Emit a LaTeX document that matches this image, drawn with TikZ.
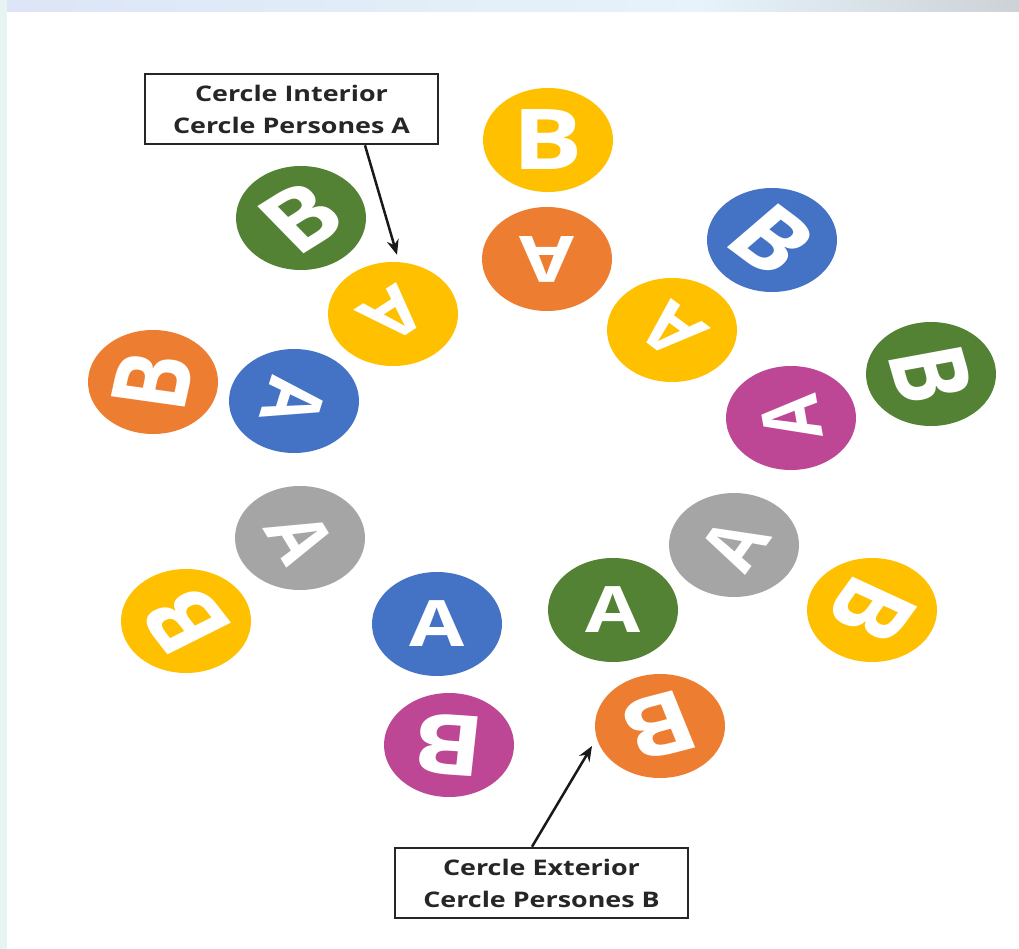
\documentclass[tikz,border=0pt]{standalone}
\usepackage{fontspec}
\setmainfont{Open Sans}
\usetikzlibrary{shapes.geometric,arrows.meta}
\definecolor{cyellow}{HTML}{FFC000}
\definecolor{corange}{HTML}{ED7D31}
\definecolor{cblue}{HTML}{4472C4}
\definecolor{cgray}{HTML}{A5A5A5}
\definecolor{cgreen}{HTML}{548235}
\definecolor{cpink}{HTML}{BD4794}
\definecolor{bgtopL}{HTML}{DDE5F6}
\definecolor{bgtopM}{HTML}{E6F3FA}
\definecolor{bgtopR}{HTML}{CDD2D6}
\definecolor{bgleft}{HTML}{E6F4F2}
\tikzset{
  tok/.style={ellipse, minimum width=130pt, minimum height=104pt, inner sep=0pt, fill=#1},
  letA/.style={text=white, font=\fontsize{64}{64}\selectfont\bfseries, inner sep=0pt},
  letB/.style={text=white, font=\fontsize{84}{84}\selectfont\bfseries, inner sep=0pt},
  lbl/.style={draw=black!85, line width=2.6pt, fill=white, minimum width=293pt, minimum height=70pt, inner sep=0pt, align=center, font=\fontsize{21.5}{32}\selectfont\bfseries, text=black!85},
  arr/.style={-{Stealth[length=15pt,width=12pt]}, line width=2.5pt, draw=black!90},
}
\newcommand\mytok[7]{%
  \node[tok=#4] (#1) at (#2,#3) {};
  \node[#5, xscale=1.25, rotate=#7] (#1l) at (#1) {#6};
}
\newcommand\wide[1]{\scalebox{1.25}[1]{#1}}
\begin{document}
\begin{tikzpicture}[x=1pt,y=-1pt]
\useasboundingbox (0,0) rectangle (1019,949);
\fill[white] (0,0) rectangle (1019,949);
\shade[left color=bgtopL, right color=bgtopM] (0,0) rectangle (700,12);
\shade[left color=bgtopM, right color=bgtopR] (700,0) rectangle (1019,12);
\fill[bgleft] (0,0) rectangle (7,949);

\mytok{yBa}{548}{140}{cyellow}{letB}{B}{0}
\mytok{oAa}{547}{259}{corange}{letA}{A}{180}
\mytok{gBa}{301}{218}{cgreen}{letB}{B}{38}
\mytok{yAa}{393}{314}{cyellow}{letA}{A}{-141}
\mytok{oBa}{153}{382}{corange}{letB}{B}{80}
\mytok{bAa}{294}{401}{cblue}{letA}{A}{-104}
\mytok{bBa}{772}{240}{cblue}{letB}{B}{-43}
\mytok{yAb}{672}{330}{cyellow}{letA}{A}{137}
\mytok{gBb}{931}{374}{cgreen}{letB}{B}{-77}
\mytok{pAa}{791}{418}{cpink}{letA}{A}{98}
\mytok{grAa}{300}{538}{cgray}{letA}{A}{-64}
\mytok{yBb}{186}{621}{cyellow}{letB}{B}{122}
\mytok{bAb}{437}{624}{cblue}{letA}{A}{0}
\mytok{pBa}{449}{745}{cpink}{letB}{B}{175}
\mytok{gAa}{613}{610}{cgreen}{letA}{A}{0}
\mytok{grAb}{734}{545}{cgray}{letA}{A}{60}
\mytok{yBc}{872}{610}{cyellow}{letB}{B}{-120}
\mytok{oBb}{660}{726}{corange}{letB}{B}{-162}

\node[lbl] (boxA) at (291.5,109) {\wide{Cercle Interior}\\\wide{Cercle Persones A}};
\node[lbl] (boxB) at (541.5,883) {\wide{Cercle Exterior}\\\wide{Cercle Persones B}};

\draw[arr] ([xshift=73.5pt]boxA.south) -- ([xshift=4pt,yshift=7pt]yAa.north);
\draw[arr] ([xshift=-9.5pt]boxB.north) -- ([xshift=-68pt,yshift=-20pt]oBb.center);
\end{tikzpicture}
\end{document}
